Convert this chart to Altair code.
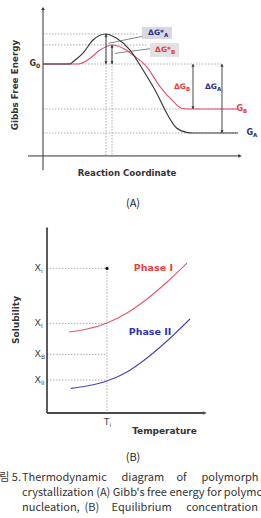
import altair as alt
import pandas as pd

# ---------------- (A) Gibbs free energy along the reaction coordinate ----------------
# polymorph A (dark) and polymorph B (red) energy profiles
rc_path_A = [0, 13.5, 15, 20, 25, 31.5, 36.8, 43.5, 50, 56.8, 61.8, 66.8, 71.8, 75, 97.5]
g_path_A = [0, 0, 1.5, 7.3, 16, 20, 17.1, 9.3, -4, -19.3, -32.7, -42.7, -45.6, -46, -46]
rc_path_B = [0, 17.5, 23.5, 28.5, 34.5, 40, 45, 51.8, 58.5, 65.2, 69.3, 72.5, 97]
g_path_B = [0, 0, 3.8, 9.3, 12.7, 10.5, 6, -1.8, -15.1, -25.1, -29.5, -30, -30]

G0 = 0
peak_A, peak_B = 20, 12.7
G_B, G_A = -30, -46
peak_A_rc, peak_B_rc = 31.5, 34.5
dG_B_rc, dG_A_rc = 75, 89.5
axisA_x = [-7.5, 98.5]      # reaction-coordinate axis extent
axisA_y = [-70.7, 37]       # energy axis extent
baseA = -61.3               # level of the reaction-coordinate axis

# ---------------- (B) Solubility vs temperature ----------------
T_phase1 = [11, 20, 30, 40, 50, 60, 70]
S_phase1 = [40.5, 42.0, 45, 50, 57, 65.5, 75]
T_phase2 = [12, 20, 30, 40, 50, 60, 71.5]
S_phase2 = [12.3, 13.5, 16, 20.5, 27.5, 36, 47]
T_i = 30
X_levels = [72.3, 44.8, 29.3, 16.5]
X_main = ["X", "X", "X", "X"]
X_subs = ["i", "I", "B", "II"]
axisB_x = [0, 79]
axisB_y = [0, 92.5]

NB = "\u00a0"
caption_lines = [
    "Thermodynamic" + NB * 6 + "diagram" + NB * 5 + "of" + NB * 6 + "polymorph",
    "crystallization (A) Gibb's free energy for polymorph",
    "nucleation," + NB * 2 + "(B)" + NB * 5 + "Equilibrium" + NB * 6 + "concentration",
]
caption_label = "그림 5."

NAVY = "#2c2c84"
RED = "#e6393f"
DARK = "#333333"
GUIDE = "#9a9a9a"
BOLD = "DejaVu Sans"
CJK = "Noto Sans CJK KR"


def enc(xs, ys):
    return dict(x=alt.X("x:Q", scale=xs, axis=None), y=alt.Y("y:Q", scale=ys, axis=None))


def curve(xv, yv, xs, ys, color, width=1.2):
    df = pd.DataFrame({"x": xv, "y": yv})
    return alt.Chart(df).mark_line(color=color, strokeWidth=width, interpolate="monotone").encode(**enc(xs, ys))


def rules(rows, xs, ys, color, width=1.0, dash=None):
    df = pd.DataFrame(rows, columns=["x", "y", "x2", "y2"])
    kw = dict(color=color, strokeWidth=width)
    if dash:
        kw["strokeDash"] = dash
    return alt.Chart(df).mark_rule(**kw).encode(x2="x2:Q", y2="y2:Q", **enc(xs, ys))


def heads(rows, xs, ys, shape, color=DARK, size=14, xoff=0, yoff=0):
    df = pd.DataFrame(rows, columns=["x", "y"])
    return alt.Chart(df).mark_point(shape=shape, filled=True, opacity=1, color=color, size=size,
                                    xOffset=xoff, yOffset=yoff).encode(**enc(xs, ys))


def texts(rows, xs, ys, **kw):
    df = pd.DataFrame(rows, columns=["x", "y", "t"])
    return alt.Chart(df).mark_text(**kw).encode(text="t:N", **enc(xs, ys))


def sub_label(x, y, main, sub, xs, ys, color, size, sub_size, weight="bold", font=BOLD):
    """Main text ending at x, subscript starting at x slightly lowered."""
    return [
        texts([(x, y, main)], xs, ys, align="right", baseline="middle", font=font,
              fontSize=size, fontWeight=weight, color=color),
        texts([(x, y, sub)], xs, ys, align="left", baseline="middle", font=font,
              fontSize=sub_size, fontWeight=weight, color=color, dy=size * 0.3),
    ]


# ---------------- panel A ----------------
xsA = alt.Scale(domain=[-21.5, 109], nice=False, zero=False)
ysA = alt.Scale(domain=[-100.67, 42.67], nice=False, zero=False)

guidesA = rules([
    (0, peak_A, 48, peak_A),
    (0, peak_B, 52, peak_B),
    (0, G0, 90, G0),
    (0, G_B, 97, G_B),
    (0, G_A, 97, G_A),
    (peak_A_rc, peak_A, peak_A_rc, baseA),
    (peak_B_rc, peak_B, peak_B_rc, baseA),
], xsA, ysA, GUIDE, 0.8, [1.5, 1.5])

axesA = rules([
    (axisA_x[0], baseA, axisA_x[1], baseA),
    (0, axisA_y[0], 0, axisA_y[1]),
], xsA, ysA, DARK, 1.0)

arrow_shaftsA = rules([
    (peak_A_rc, G0, peak_A_rc, peak_A),
    (peak_B_rc, G0, peak_B_rc, peak_B),
    (dG_B_rc, G_B, dG_B_rc, G0),
    (dG_A_rc, G_A, dG_A_rc, G0),
], xsA, ysA, DARK, 0.9)

leadersA = rules([
    (32.7, 13.8, 49.5, 18.4),
    (36, 7.1, 53.5, 10.2),
], xsA, ysA, "#666666", 0.8)

boxesA = alt.Chart(pd.DataFrame({
    "x": [49.5, 53.5], "x2": [64.5, 68], "y": [16.7, 4.7], "y2": [24.7, 14],
    "c": ["#d8d8e2", "#e2e2e2"],
})).mark_rect().encode(x2="x2:Q", y2="y2:Q", color=alt.Color("c:N", scale=None), **enc(xsA, ysA))

layersA = [
    guidesA, axesA, boxesA,
    curve(rc_path_B, g_path_B, xsA, ysA, "#e0506e", 1.1),
    curve(rc_path_A, g_path_A, xsA, ysA, "#3a3a3a", 1.2),
    arrow_shaftsA, leadersA,
    heads([(peak_A_rc, peak_A), (peak_B_rc, peak_B), (dG_B_rc, G0), (dG_A_rc, G0)], xsA, ysA,
          "triangle-up", size=10, yoff=1.5),
    heads([(peak_A_rc, G0), (peak_B_rc, G0), (dG_B_rc, G_B), (dG_A_rc, G_A)], xsA, ysA,
          "triangle-down", size=10, yoff=-1.5),
    heads([(axisA_x[1], baseA)], xsA, ysA, "triangle-right", size=14),
    heads([(0, axisA_y[1])], xsA, ysA, "triangle-up", size=14),
    texts([(-14, -14, "Gibbs Free Energy")], xsA, ysA, angle=270, align="center", baseline="middle",
          font=BOLD, fontSize=8.8, fontWeight="bold", color=DARK),
    texts([(42, -72.7, "Reaction Coordinate")], xsA, ysA, align="center", baseline="middle",
          font=BOLD, fontSize=8.6, fontWeight="bold", color=DARK),
    texts([(45, -93.3, "(A)")], xsA, ysA, align="center", baseline="middle",
          font=CJK, fontSize=11, color="#222222"),
]
layersA += sub_label(-3.5, G0, "G", "0", xsA, ysA, DARK, 8, 6)
layersA += sub_label(60.5, 20.7, "ΔG*", "A", xsA, ysA, NAVY, 7.5, 5.5)
layersA += sub_label(64, 9.3, "ΔG*", "B", xsA, ysA, RED, 7.5, 5.5)
layersA += sub_label(71.5, -15.3, "ΔG", "B", xsA, ysA, RED, 7.5, 5.5)
layersA += sub_label(87, -15.3, "ΔG", "A", xsA, ysA, NAVY, 7.5, 5.5)
layersA += sub_label(100, G_B, "G", "B", xsA, ysA, RED, 8, 5.5)
layersA += sub_label(105, G_A, "G", "A", xsA, ysA, NAVY, 8, 5.5)

panelA = alt.layer(*layersA).properties(width=261, height=215)

# ---------------- panel B ----------------
xsB = alt.Scale(domain=[-23.5, 107], nice=False, zero=False)
ysB = alt.Scale(domain=[-26, 99], nice=False, zero=False)

guidesB = rules(
    [(0, v, T_i, v) for v in X_levels] + [(T_i, X_levels[0], T_i, 0)],
    xsB, ysB, GUIDE, 0.8, [1.5, 1.5])

axesB = rules([
    (axisB_x[0], 0, axisB_x[1], 0),
    (0, 0, 0, axisB_y[1]),
], xsB, ysB, "#4a4a4a", 1.8)

layersB = [
    guidesB, axesB,
    curve(T_phase1, S_phase1, xsB, ysB, "#de5a70", 1.1),
    curve(T_phase2, S_phase2, xsB, ysB, "#4646b4", 1.1),
    heads([(axisB_x[1], 0)], xsB, ysB, "triangle-right", color="#4a4a4a", size=14),
    heads([(0, axisB_y[1])], xsB, ysB, "triangle-up", color="#4a4a4a", size=8),
    heads([(T_i, X_levels[0])], xsB, ysB, "circle", color="#111111", size=10),
    texts([(53.2, 72.5, "Phase I")], xsB, ysB, align="center", baseline="middle",
          font=BOLD, fontSize=9.5, fontWeight="bold", color="#e8403c"),
    texts([(51.5, 40.7, "Phase II")], xsB, ysB, align="center", baseline="middle",
          font=BOLD, fontSize=9.5, fontWeight="bold", color="#3232b0"),
    texts([(-15.5, 46.5, "Solubility")], xsB, ysB, angle=270, align="center", baseline="middle",
          font=BOLD, fontSize=9, fontWeight="bold", color=DARK),
    texts([(58.75, -9, "Temperature")], xsB, ysB, align="center", baseline="middle",
          font=BOLD, fontSize=9, fontWeight="bold", color=DARK),
    texts([(43, -22.25, "(B)")], xsB, ysB, align="center", baseline="middle",
          font=CJK, fontSize=11, color="#222222"),
]
for lvl, m, s in zip(X_levels, X_main, X_subs):
    layersB += sub_label(-3, lvl, m, s, xsB, ysB, "#444444", 9.5, 6, weight="normal")
layersB += sub_label(31.25, -4.5, "T", "i", xsB, ysB, "#444444", 9.5, 6, weight="normal")

panelB = alt.layer(*layersB).properties(width=261, height=250)

# ---------------- caption ----------------
cap_df = pd.DataFrame({"line": [1, 2, 3], "t": caption_lines})
ys_cap = alt.Scale(domain=[0.133, 3.667], nice=False, zero=False, reverse=True)
caption_text = alt.Chart(cap_df).mark_text(
    align="left", baseline="middle", font=CJK, fontSize=11, color="#333333", clip=True
).encode(x=alt.value(22), y=alt.Y("line:Q", scale=ys_cap, axis=None), text="t:N")
caption_num = alt.Chart(pd.DataFrame({"line": [1], "t": [caption_label]})).mark_text(
    align="right", baseline="middle", font=CJK, fontSize=11, color="#333333", clip=True
).encode(x=alt.value(21), y=alt.Y("line:Q", scale=ys_cap, axis=None), text="t:N")
caption = alt.layer(caption_text, caption_num).properties(width=261, height=53)

chart = alt.vconcat(panelA, panelB, caption, spacing=0, bounds="flush").properties(
    padding=0, background="white"
).configure_view(stroke=None)

chart.save("out.html", embed_options={"renderer": "svg", "actions": False})
